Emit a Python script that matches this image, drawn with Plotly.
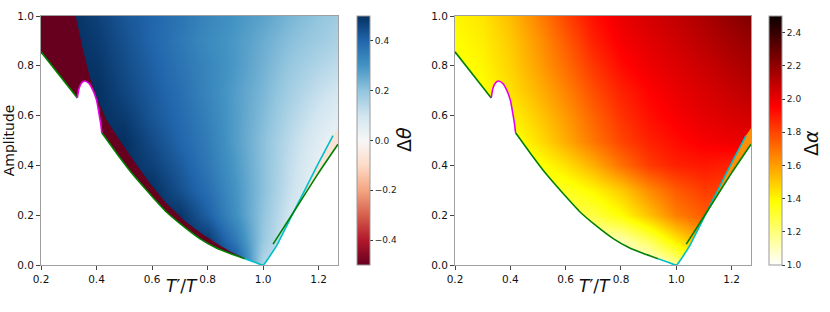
import plotly.graph_objects as go

# ---------------- data ----------------
x_grid = [0.2, 0.3, 0.4, 0.5, 0.6, 0.7, 0.8, 0.9, 1.0, 1.1, 1.2, 1.3]
y_grid = [0.0, 0.1, 0.2, 0.3, 0.4, 0.5, 0.6, 0.7, 0.8, 0.9, 1.0]

# Delta theta (rows: y_grid, cols: x_grid)
dtheta = [
    [0.50, 0.50, 0.50, 0.50, 0.50, 0.50, 0.50, 0.45, 0.15, 0.06, 0.00, -0.05],
    [0.50, 0.50, 0.50, 0.50, 0.50, 0.50, 0.48, 0.36, 0.19, 0.07, 0.01, -0.05],
    [0.50, 0.50, 0.50, 0.50, 0.50, 0.49, 0.41, 0.31, 0.20, 0.09, 0.02, -0.04],
    [0.50, 0.50, 0.50, 0.50, 0.50, 0.44, 0.38, 0.30, 0.21, 0.11, 0.03, -0.03],
    [0.50, 0.50, 0.50, 0.50, 0.47, 0.42, 0.36, 0.29, 0.21, 0.12, 0.04, -0.02],
    [0.50, 0.50, 0.50, 0.50, 0.45, 0.40, 0.35, 0.28, 0.21, 0.13, 0.06, 0.00],
    [0.50, 0.50, 0.50, 0.48, 0.43, 0.39, 0.34, 0.28, 0.22, 0.15, 0.09, 0.04],
    [0.50, 0.50, 0.50, 0.46, 0.42, 0.38, 0.33, 0.28, 0.23, 0.17, 0.12, 0.08],
    [0.50, 0.50, 0.49, 0.45, 0.41, 0.37, 0.33, 0.29, 0.24, 0.19, 0.15, 0.12],
    [0.50, 0.50, 0.48, 0.44, 0.40, 0.36, 0.32, 0.29, 0.25, 0.21, 0.18, 0.15],
    [0.50, 0.50, 0.47, 0.43, 0.40, 0.37, 0.33, 0.30, 0.27, 0.23, 0.20, 0.17],
]

# Delta alpha (rows: y_grid, cols: x_grid)
dalpha = [
    [1.00, 1.00, 1.00, 1.00, 1.00, 1.00, 1.00, 1.02, 1.15, 1.40, 1.50, 1.50],
    [1.05, 1.05, 1.05, 1.05, 1.05, 1.10, 1.12, 1.25, 1.43, 1.60, 1.65, 1.65],
    [1.10, 1.15, 1.15, 1.15, 1.25, 1.28, 1.38, 1.52, 1.67, 1.75, 1.75, 1.70],
    [1.15, 1.20, 1.22, 1.30, 1.33, 1.40, 1.50, 1.64, 1.75, 1.82, 1.80, 1.75],
    [1.20, 1.25, 1.30, 1.36, 1.45, 1.56, 1.70, 1.82, 1.88, 1.90, 1.88, 1.85],
    [1.25, 1.30, 1.35, 1.45, 1.57, 1.69, 1.80, 1.88, 1.93, 1.97, 1.99, 2.00],
    [1.30, 1.34, 1.40, 1.50, 1.61, 1.73, 1.84, 1.92, 1.97, 2.01, 2.04, 2.06],
    [1.34, 1.38, 1.45, 1.55, 1.66, 1.78, 1.88, 1.95, 2.00, 2.04, 2.08, 2.12],
    [1.36, 1.40, 1.48, 1.59, 1.71, 1.83, 1.93, 1.99, 2.03, 2.07, 2.12, 2.16],
    [1.38, 1.42, 1.50, 1.62, 1.75, 1.88, 1.97, 2.02, 2.06, 2.11, 2.16, 2.20],
    [1.40, 1.44, 1.53, 1.66, 1.80, 1.92, 2.00, 2.05, 2.09, 2.14, 2.20, 2.26],
]

# boundary curves
green_left_x = [0.2, 0.331]
green_left_y = [0.856, 0.671]
magenta_x = [0.331, 0.337, 0.346, 0.357, 0.373, 0.387, 0.400, 0.409, 0.415, 0.419]
magenta_y = [0.671, 0.709, 0.731, 0.739, 0.729, 0.702, 0.662, 0.608, 0.568, 0.531]
green_mid_x = [0.419, 0.475, 0.532, 0.59, 0.652, 0.71, 0.772, 0.83, 0.892, 0.934]
green_mid_y = [0.531, 0.445, 0.362, 0.288, 0.213, 0.158, 0.106, 0.069, 0.042, 0.025]
cyan_x = [0.934, 0.97, 1.0, 1.015, 1.03, 1.05, 1.075, 1.1, 1.15, 1.2, 1.252]
cyan_y = [0.025, 0.011, 0.0, 0.02, 0.045, 0.08, 0.135, 0.19, 0.30, 0.41, 0.52]
green_right_x = [1.036, 1.1, 1.2, 1.27]
green_right_y = [0.084, 0.195, 0.37, 0.485]
# border between the dark-red (-0.5) zone and the blue zone (left panel)
redblue_x = [0.325, 0.35, 0.376, 0.405, 0.436, 0.484, 0.54, 0.592, 0.65, 0.72, 0.78, 0.832, 0.88, 0.934]
redblue_y = [1.0, 0.87, 0.755, 0.66, 0.582, 0.50, 0.41, 0.328, 0.25, 0.175, 0.125, 0.087, 0.055, 0.027]
strip_top = (1.27, 0.55)

x_ticks = [0.2, 0.4, 0.6, 0.8, 1.0, 1.2]
y_ticks = [0.0, 0.2, 0.4, 0.6, 0.8, 1.0]
theta_ticks = [-0.4, -0.2, 0.0, 0.2, 0.4]
alpha_ticks = [1.0, 1.2, 1.4, 1.6, 1.8, 2.0, 2.2, 2.4]

# ---------------- styling ----------------
W, H = 830, 312
FONT = "DejaVu Sans"
rdbu = [
    [0.0, "rgb(103,0,31)"], [0.1, "rgb(178,24,43)"], [0.2, "rgb(214,96,77)"],
    [0.3, "rgb(244,165,130)"], [0.4, "rgb(253,219,199)"], [0.5, "rgb(247,247,247)"],
    [0.6, "rgb(209,229,240)"], [0.7, "rgb(146,197,222)"], [0.8, "rgb(67,147,195)"],
    [0.9, "rgb(33,102,172)"], [1.0, "rgb(5,48,97)"],
]
hot_r = [[0.0, "rgb(255,255,255)"], [0.254, "rgb(255,255,0)"],
         [0.635, "rgb(255,0,0)"], [1.0, "rgb(11,0,0)"]]

# pixel geometry (integer pixel edges)
L_x0, L_x1 = 41, 338
R_x0, R_x1 = 455, 751
Y_top, Y_bot = 16, 265
ydom = [1 - Y_bot / H, 1 - Y_top / H]
X_RANGE = [0.2, 1.27]
Y_RANGE = [0.0, 1.0]
PAD = 0.05  # mask overshoot beyond the clipped plot area


def cbar(x_left, ticks):
    return dict(
        x=x_left / W, xanchor="left", xpad=0, ypad=0,
        y=ydom[0], yanchor="bottom", len=ydom[1] - ydom[0], lenmode="fraction",
        thickness=13, thicknessmode="pixels",
        outlinecolor="#9a9a9a", outlinewidth=1,
        tickvals=ticks, tickformat=".1f", ticks="outside", ticklen=3,
        tickcolor="#333", tickfont=dict(family=FONT, size=9, color="#222"),
    )


fig = go.Figure()

lower_x = green_left_x + magenta_x[1:] + green_mid_x[1:]
lower_y = green_left_y + magenta_y[1:] + green_mid_y[1:]
# bottom of coloured region on the right: min(cyan, green)
cut = 1.1
mask_x = lower_x + [v for v in cyan_x[1:] if v <= cut] + [v for v in green_right_x if v > cut]
mask_y = lower_y + [cyan_y[i] for i, v in enumerate(cyan_x[1:], 1) if v <= cut] + \
    [green_right_y[i] for i, v in enumerate(green_right_x) if v > cut]
mask_x = mask_x + [X_RANGE[1] + PAD, X_RANGE[1] + PAD, X_RANGE[0] - PAD, X_RANGE[0] - PAD]
mask_y = mask_y + [mask_y[-1], Y_RANGE[0] - PAD, Y_RANGE[0] - PAD, lower_y[0]]

strip_x = [v for v in cyan_x if v >= cut] + [strip_top[0]] + [v for v in green_right_x[::-1] if v >= cut]
strip_y = [cyan_y[i] for i, v in enumerate(cyan_x) if v >= cut] + [strip_top[1]] + \
    [green_right_y[::-1][i] for i, v in enumerate(green_right_x[::-1]) if v >= cut]

red_x = lower_x + redblue_x[::-1] + [X_RANGE[0]]
red_y = lower_y + redblue_y[::-1] + [Y_RANGE[1]]

for k, (zz, cs, zmin, zmax, ticks, cbx, strip_col) in enumerate([
    (dtheta, rdbu, -0.5, 0.5, theta_ticks, 357, "rgb(250,226,212)"),
    (dalpha, hot_r, 1.0, 2.5, alpha_ticks, 769, "rgb(255,145,10)"),
]):
    xa = "x" if k == 0 else "x2"
    ya = "y" if k == 0 else "y2"
    fig.add_trace(go.Heatmap(
        x=x_grid, y=y_grid, z=zz, colorscale=cs, zmin=zmin, zmax=zmax,
        zsmooth="best", colorbar=cbar(cbx, ticks), xaxis=xa, yaxis=ya,
        hoverinfo="skip"))
    if k == 0:
        fig.add_trace(go.Scatter(x=red_x, y=red_y, fill="toself", mode="none",
                                 fillcolor="rgb(103,0,31)", xaxis=xa, yaxis=ya,
                                 showlegend=False, hoverinfo="skip"))
    fig.add_trace(go.Scatter(x=mask_x, y=mask_y, fill="toself", mode="none",
                             fillcolor="white", xaxis=xa, yaxis=ya,
                             showlegend=False, hoverinfo="skip"))
    fig.add_trace(go.Scatter(x=strip_x, y=strip_y, fill="toself", mode="none",
                             fillcolor=strip_col, xaxis=xa, yaxis=ya,
                             showlegend=False, hoverinfo="skip"))
    for cx, cy, col in [
        (green_left_x, green_left_y, "rgb(0,128,0)"),
        (green_mid_x, green_mid_y, "rgb(0,128,0)"),
        (magenta_x, magenta_y, "rgb(230,0,230)"),
        (cyan_x, cyan_y, "rgb(0,191,200)"),
        (green_right_x, green_right_y, "rgb(0,128,0)"),
    ]:
        fig.add_trace(go.Scatter(x=cx, y=cy, mode="lines",
                                 line=dict(color=col, width=1.6, shape="spline", smoothing=0.6),
                                 xaxis=xa, yaxis=ya, showlegend=False, hoverinfo="skip"))

axis_common = dict(showline=True, mirror=True, linecolor="#a0a0a0", linewidth=1,
                   showgrid=False, zeroline=False, ticks="outside", ticklen=4,
                   tickcolor="#444", tickformat=".1f", automargin=False,
                   tickfont=dict(family=FONT, size=10.5, color="#111"))

fig.update_layout(
    width=W, height=H, margin=dict(l=0, r=0, t=0, b=0, pad=0, autoexpand=False),
    paper_bgcolor="white", plot_bgcolor="white", showlegend=False,
    xaxis=dict(domain=[L_x0 / W, L_x1 / W], range=X_RANGE, tickvals=x_ticks,
               anchor="y", **axis_common),
    yaxis=dict(domain=ydom, range=Y_RANGE, tickvals=y_ticks, anchor="x", **axis_common),
    xaxis2=dict(domain=[R_x0 / W, R_x1 / W], range=X_RANGE, tickvals=x_ticks,
                anchor="y2", **axis_common),
    yaxis2=dict(domain=ydom, range=Y_RANGE, tickvals=y_ticks, anchor="x2", **axis_common),
)

ann = [
    dict(text="<i>T</i>′/<i>T</i>", x=182 / W, y=1 - 286 / H, size=17, angle=0),
    dict(text="<i>T</i>′/<i>T</i>", x=595 / W, y=1 - 286 / H, size=17, angle=0),
    dict(text="Amplitude", x=9 / W, y=1 - 140.3 / H, size=14, angle=-90),
    dict(text="Δ<i>θ</i>", x=404 / W, y=1 - 140 / H, size=19, angle=-90),
    dict(text="Δ<i>α</i>", x=811 / W, y=1 - 143 / H, size=19, angle=-90),
]
for a in ann:
    fig.add_annotation(text=a["text"], x=a["x"], y=a["y"], xref="paper", yref="paper",
                       xanchor="center", yanchor="middle", showarrow=False,
                       textangle=a["angle"], font=dict(family=FONT, size=a["size"], color="#111"))

fig.write_html("out.html", config={"displayModeBar": False, "staticPlot": True},
               post_script="document.body.style.margin='0';document.body.style.padding='0';")
